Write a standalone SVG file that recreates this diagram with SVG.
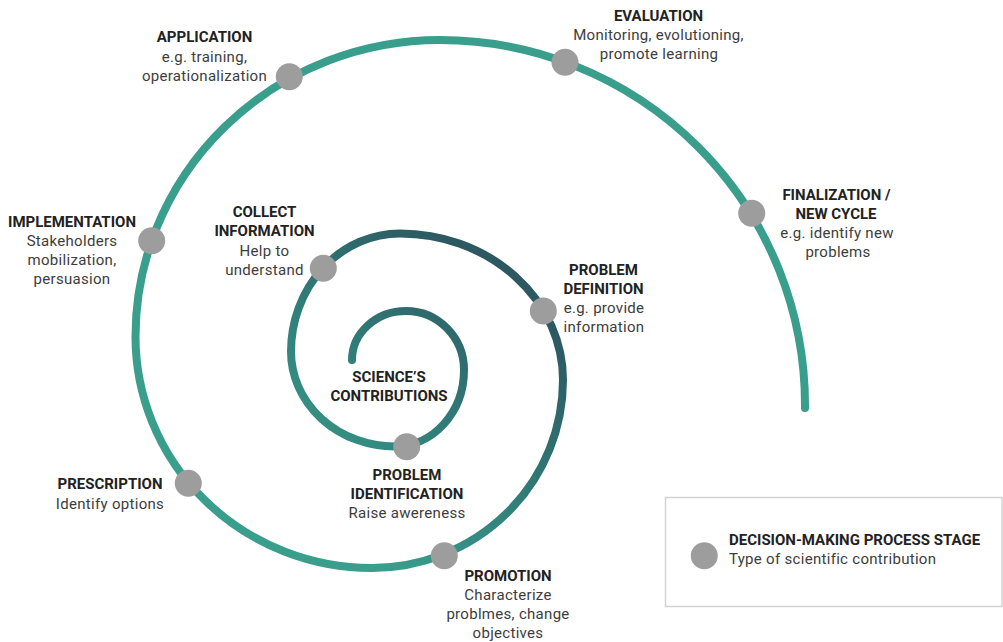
<svg xmlns="http://www.w3.org/2000/svg" width="1003" height="642" viewBox="0 0 1003 642">
  <style>
    .t { font-family: Roboto, "Liberation Sans", sans-serif; font-size: 15px; text-anchor: middle; }
    .l { font-family: Roboto, "Liberation Sans", sans-serif; font-size: 15px; }
    .h { font-weight: 700; fill: #222222; }
    .d { font-weight: 400; fill: #3d3d3d; letter-spacing: 0.3px; }
    .dot { fill: #9d9d9d; }
    .spiral { fill: none; stroke-width: 8; stroke-linecap: round; }
  </style>
  <defs>
    <!-- inner coils darken toward the upper right -->
    <linearGradient id="coilShade" gradientUnits="userSpaceOnUse" x1="520" y1="300" x2="330" y2="520">
      <stop offset="0" stop-color="#2c5961"/>
      <stop offset="0.55" stop-color="#31807a"/>
      <stop offset="1" stop-color="#3a9e8c"/>
    </linearGradient>
  </defs>
  <rect width="1003" height="642" fill="#ffffff"/>

  <!-- spiral, built from quarter arcs -->
  <g id="connectors">
    <path class="spiral" stroke="url(#coilShade)" d="M352 360 A54 49 0 0 1 406 311 A58 59 0 0 1 464 370 A69 76.5 0 0 1 395 446.5 A104 94.9 0 0 1 291 351.6 A109 118.1 0 0 1 400 233.5 A163 146.5 0 0 1 563 380 A191 188 0 0 1 372 568"/>
    <path class="spiral" stroke="#3a9e8c" d="M372 568 A236.5 231.6 0 0 1 135.5 336.4 A304.5 296.4 0 0 1 440 40 A365 365 0 0 1 805 405 L805 408"/>
  </g>

  <g id="center-label">
    <text class="t h" x="389" y="381.5">SCIENCE’S</text>
    <text class="t h" x="389" y="400.5">CONTRIBUTIONS</text>
  </g>

  <g id="problem-identification">
    <circle class="dot" cx="406.7" cy="446.7" r="13.5"/>
    <text class="t h" x="407" y="479.5">PROBLEM</text>
    <text class="t h" x="407" y="498.5">IDENTIFICATION</text>
    <text class="t d" x="407" y="517.5">Raise awereness</text>
  </g>

  <g id="collect-information">
    <circle class="dot" cx="323.3" cy="268.3" r="13.5"/>
    <text class="t h" x="264.5" y="216.5">COLLECT</text>
    <text class="t h" x="264.5" y="236">INFORMATION</text>
    <text class="t d" x="264.5" y="255.5">Help to</text>
    <text class="t d" x="264.5" y="275">understand</text>
  </g>

  <g id="problem-definition">
    <circle class="dot" cx="543.3" cy="311" r="13.5"/>
    <text class="t h" x="603.5" y="274.5">PROBLEM</text>
    <text class="t h" x="603.5" y="293.5">DEFINITION</text>
    <text class="t d" x="604" y="312.5">e.g. provide</text>
    <text class="t d" x="604" y="331.5">information</text>
  </g>

  <g id="promotion">
    <circle class="dot" cx="444.3" cy="555.7" r="13.5"/>
    <text class="t h" x="508" y="580.5">PROMOTION</text>
    <text class="t d" x="508" y="600">Characterize</text>
    <text class="t d" x="508" y="619">problmes, change</text>
    <text class="t d" x="508" y="638">objectives</text>
  </g>

  <g id="prescription">
    <circle class="dot" cx="188.3" cy="483.3" r="13.5"/>
    <text class="t h" x="110" y="489.3">PRESCRIPTION</text>
    <text class="t d" x="110" y="508.5">Identify options</text>
  </g>

  <g id="implementation">
    <circle class="dot" cx="151.7" cy="240.7" r="13.5"/>
    <text class="t h" x="72" y="226.5">IMPLEMENTATION</text>
    <text class="t d" x="72" y="245.5">Stakeholders</text>
    <text class="t d" x="72" y="264.5">mobilization,</text>
    <text class="t d" x="72" y="283.5">persuasion</text>
  </g>

  <g id="application">
    <circle class="dot" cx="289.3" cy="76.7" r="13.5"/>
    <text class="t h" x="204.5" y="42">APPLICATION</text>
    <text class="t d" x="204.5" y="61.5">e.g. training,</text>
    <text class="t d" x="204.5" y="81">operationalization</text>
  </g>

  <g id="evaluation">
    <circle class="dot" cx="565" cy="62.3" r="13.5"/>
    <text class="t h" x="658.5" y="20.5">EVALUATION</text>
    <text class="t d" x="658.5" y="39.5">Monitoring, evolutioning,</text>
    <text class="t d" x="659" y="58.5">promote learning</text>
  </g>

  <g id="finalization">
    <circle class="dot" cx="751.7" cy="213.3" r="13.5"/>
    <text class="t h" x="836.5" y="199.5">FINALIZATION /</text>
    <text class="t h" x="836" y="218.5">NEW CYCLE</text>
    <text class="t d" x="837" y="237.5">e.g. identify new</text>
    <text class="t d" x="838" y="256.5">problems</text>
  </g>

  <g id="legend">
    <rect x="665.5" y="497.5" width="336.5" height="109" fill="none" stroke="#d2d2d2" stroke-width="1.5"/>
    <circle class="dot" cx="704.3" cy="555.7" r="13.5"/>
    <text class="l h" x="729" y="545">DECISION-MAKING PROCESS STAGE</text>
    <text class="l d" x="729" y="564">Type of scientific contribution</text>
  </g>
</svg>
